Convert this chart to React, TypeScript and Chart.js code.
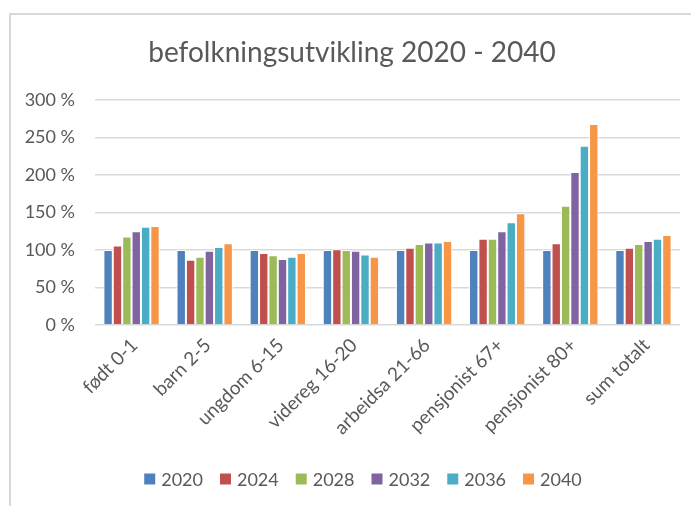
import React, { useEffect, useRef } from "react";
import { Chart, registerables } from "chart.js";

Chart.register(...registerables);

const categories = [
  "født 0-1",
  "barn 2-5",
  "ungdom 6-15",
  "videreg 16-20",
  "arbeidsa 21-66",
  "pensjonist 67+",
  "pensjonist 80+",
  "sum totalt",
];
const seriesNames = ["2020", "2024", "2028", "2032", "2036", "2040"];
const v2020 = [100, 100, 100, 100, 100, 100, 100, 100];
const v2024 = [106, 87, 96, 101, 103, 115, 109, 103];
const v2028 = [118, 91, 93, 100, 108, 115, 159, 108];
const v2032 = [125, 99, 88, 99, 110, 125, 204, 112];
const v2036 = [131, 104, 91, 94, 110, 137, 239, 115];
const v2040 = [132, 109, 96, 91, 112, 149, 268, 120];
const seriesValues = [v2020, v2024, v2028, v2032, v2036, v2040];
const seriesColors = ["#4F81BD", "#C0504D", "#9BBB59", "#8064A2", "#4BACC6", "#F79646"];
const titleText = "befolkningsutvikling 2020 - 2040";

const FONT = "Lato, 'Open Sans', sans-serif";
const TEXT = "#595959";

const overlayPlugin = {
  id: "overlay",
  afterDraw(chart: any) {
    const ctx = chart.ctx;
    ctx.save();
    // title
    ctx.fillStyle = TEXT;
    ctx.font = `28px ${FONT}`;
    ctx.textAlign = "center";
    ctx.textBaseline = "alphabetic";
    ctx.fillText(titleText, 344, 54);
    // legend
    ctx.font = `18px ${FONT}`;
    ctx.textAlign = "left";
    ctx.textBaseline = "middle";
    const box = 11;
    const gap = 6;
    const spacing = 17;
    const items = chart.data.datasets.map((d: any) => ({
      label: d.label,
      color: d.backgroundColor,
      w: box + gap + ctx.measureText(d.label).width,
    }));
    const total = items.reduce((s: number, it: any) => s + it.w, 0) + spacing * (items.length - 1);
    let x = 355 - total / 2;
    const y = 471;
    items.forEach((it: any) => {
      ctx.fillStyle = it.color;
      ctx.fillRect(x, y - box / 2, box, box);
      ctx.fillStyle = TEXT;
      ctx.fillText(it.label, x + box + gap, y + 1);
      x += it.w + spacing;
    });
    ctx.restore();
  },
};

export default function App() {
  const ref = useRef<HTMLCanvasElement>(null);
  useEffect(() => {
    if (!ref.current) return;
    const chart = new Chart(ref.current, {
      type: "bar",
      data: {
        labels: categories,
        datasets: seriesNames.map((name, i) => ({
          label: name,
          data: seriesValues[i],
          backgroundColor: seriesColors[i],
          borderColor: "#ffffff",
          borderWidth: 1,
          barPercentage: 1,
          categoryPercentage: 0.77,
        })),
      },
      options: {
        animation: false,
        responsive: false,
        maintainAspectRatio: false,
        layout: { padding: { top: 92, right: 19, bottom: 0, left: 0 } },
        plugins: {
          legend: { display: false },
          title: { display: false },
          tooltip: { enabled: false },
        },
        scales: {
          x: {
            grid: { display: false, drawTicks: false },
            border: { display: false },
            ticks: {
              color: TEXT,
              font: { family: FONT, size: 19 },
              maxRotation: 45,
              minRotation: 45,
              padding: 9,
              labelOffset: 3,
              autoSkip: false,
            },
            afterFit(scale: any) {
              scale.height = 181;
            },
          },
          y: {
            min: 0,
            max: 300,
            grid: { color: "#d9d9d9", lineWidth: 1.5, drawTicks: false },
            border: { display: false },
            ticks: {
              stepSize: 50,
              color: TEXT,
              font: { family: FONT, size: 18 },
              padding: 20,
              callback: (v: any) => `${v} %`,
            },
            afterFit(scale: any) {
              scale.width = 87;
            },
          },
        },
      },
      plugins: [overlayPlugin],
    });
    return () => chart.destroy();
  }, []);

  return (
    <div style={{ position: "relative", width: 691, height: 498 }}>
      <canvas ref={ref} width={691} height={498} style={{ display: "block" }} />
      <div
        style={{
          position: "absolute",
          left: 1,
          top: 5,
          right: 0,
          bottom: 0,
          borderLeft: "2px solid #d9d9d9",
          borderTop: "2px solid #d9d9d9",
          pointerEvents: "none",
        }}
      />
    </div>
  );
}
